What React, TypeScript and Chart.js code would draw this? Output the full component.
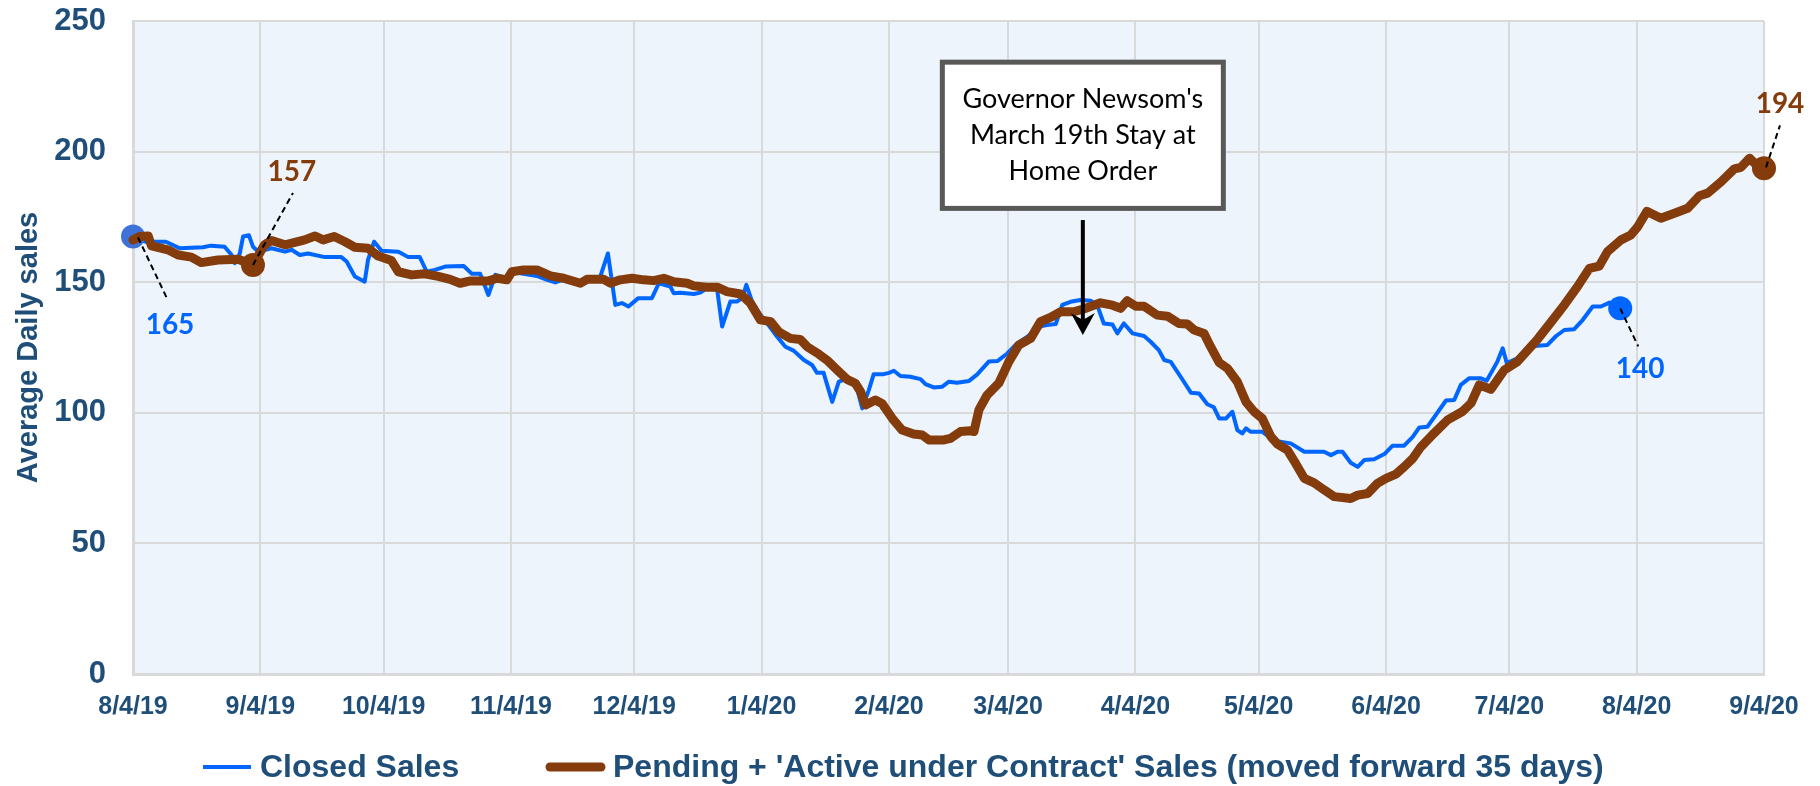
import { useEffect, useRef } from 'react';
import { Chart, registerables } from 'chart.js';

Chart.register(...registerables);

// ---------- data ----------
const tickDays = [0, 31, 61, 92, 122, 153, 184, 213, 244, 274, 305, 335, 366, 397];
const tickLabels = ['8/4/19', '9/4/19', '10/4/19', '11/4/19', '12/4/19', '1/4/20', '2/4/20', '3/4/20', '4/4/20', '5/4/20', '6/4/20', '7/4/20', '8/4/20', '9/4/20'];

// days since 8/4/19
const closedDays = [
  0, 3, 8, 11.4, 17, 19, 22.3, 24, 24.8, 26, 26.8, 28.2, 29.2, 30.5, 33.7, 37, 38.6, 40.6, 42.6, 46.7,
  50.7, 52, 54, 56.4, 57.2, 58.7, 60.5, 64.6, 67, 69.8, 71.5, 73.5, 76, 80.5, 82.5, 84.5, 86.5, 88.2, 91, 92.2,
  98.3, 100.8, 102.8, 104.8, 108.9, 113.7, 115.6, 117.4, 119, 120.6, 123, 126.3, 128, 130.8, 131.6, 133.2, 136.5, 138.1, 139.7, 142.2,
  143.4, 145.4, 147, 148.3, 149.3, 150.7, 152.5, 154.5, 156.8, 158.8, 160.8, 163.3, 165.3, 166.5, 168.1, 170.2, 171.8, 174.2, 175.8, 177.5,
  179.1, 180.3, 182.7, 184, 185.2, 186.8, 189.2, 191.7, 192.9, 194.9, 197, 198.6, 200.6, 203.5, 205.5, 208.3, 210.4, 212.8, 215.2, 217.7,
  220.5, 222.5, 224.6, 226.2, 228.2, 230.6, 233.1, 234.7, 236.3, 238.4, 239.6, 241.2, 243.3, 246.1, 247.7, 249.7, 251, 252.6, 255, 257.5,
  259.5, 261.5, 263.1, 264.4, 266, 267.6, 268.8, 270, 270.9, 272.1, 274.9, 277.8, 281.8, 285.1, 289.9, 291.6, 293.2, 294.4, 296.4, 298.1,
  299.7, 302.1, 304.6, 306.6, 309.4, 311.5, 313.1, 315.1, 319.6, 321.6, 323.2, 325.2, 328.1, 329.5, 332.1, 333.4, 334.4, 337, 341.1, 344.3,
  346.4, 348.4, 350.8, 352.9, 355.3, 357.3, 359.4, 362,
];
const closedValues = [
  167.5, 165.5, 165.5, 163, 163.4, 164, 163.6, 160.4, 157.3, 161, 167.5, 168, 163.6, 161.7, 163, 161.7, 162.4, 160.4, 161, 159.6,
  159.6, 157.9, 152.2, 150.2, 158.5, 165.5, 162, 161.7, 159.6, 159.6, 154, 154.7, 156, 156.2, 153.2, 153.2, 145.1, 152.8, 151.5, 154,
  152.4, 150.9, 149.9, 151.1, 150.2, 151.9, 161, 141.3, 142, 140.7, 143.9, 143.9, 149.6, 148.3, 145.8, 146, 145.5, 146, 147.7, 147.1,
  133, 142.6, 142.6, 143.9, 149, 142.6, 138, 134, 129.1, 125.3, 123.8, 120.2, 118.3, 115.3, 115.3, 104.2, 111.9, 113.2, 111.9, 101.7,
  108.7, 114.8, 114.8, 115.3, 116.1, 114.1, 113.8, 112.9, 111, 109.7, 110, 111.9, 111.5, 112.2, 114.7, 119.6, 119.8, 122.7, 126.6, 129.1,
  133, 133.6, 134, 141.3, 142.5, 143.2, 142.9, 141.2, 134.2, 133.8, 130.4, 134.2, 130.4, 129.4, 127.2, 124, 120.2, 119.5, 113.8, 107.7,
  107.4, 103.3, 102.1, 97.8, 97.8, 100.4, 93.4, 92.1, 94, 92.7, 92.7, 89.3, 88.3, 85.1, 85.1, 83.8, 85.1, 85.1, 80.9, 79.3,
  81.9, 82.2, 84.2, 87.4, 87.4, 90.8, 94.4, 94.7, 104.7, 104.9, 110.7, 113.2, 113.2, 112.3, 119.6, 124.7, 119, 120.9, 125.6, 126,
  129.4, 131.7, 132, 135.6, 140.7, 140.7, 142.2, 140,
];

const pendingDays = [
  0, 1.6, 3.7, 4.5, 8.5, 11, 14.2, 16.6, 20.7, 25.6, 29.2, 32, 33.7, 37, 41.8, 44.3, 46.3, 49, 51.6, 54,
  57.2, 59.7, 62.9, 64.6, 67.8, 71, 74.3, 77.2, 79.6, 82.1, 86.5, 88.6, 91, 92.2, 95.1, 98.3, 101.6, 104.8, 108.9, 110.5,
  114.6, 116.2, 118.6, 121.5, 124.3, 126.7, 129.2, 131.6, 134.9, 136.5, 139.7, 142.2, 144.6, 147.9, 150.3, 152.7, 155.2, 157.2, 160, 162.4,
  164.1, 166.9, 168.9, 171.4, 173.8, 175.8, 177.1, 178.3, 180.7, 182.3, 184.8, 187.2, 190, 192.1, 193.7, 197.4, 199, 201.4, 203.9, 204.7,
  205.9, 207.9, 210.8, 213.2, 215.6, 218.5, 220.9, 223.3, 225.8, 229, 231.9, 235.5, 238.4, 240.4, 242, 244.1, 246.1, 249.3, 251.8, 254.6,
  256.6, 258.3, 260.7, 262.3, 264.4, 266.4, 268.8, 270.9, 272.9, 274.9, 277, 278.6, 281, 283, 285.1, 287.5, 290, 292.4, 296.4, 298.1,
  300.5, 302.9, 305, 307.4, 309.4, 311.5, 313.5, 316.7, 320, 323.6, 325.7, 327.7, 330.5, 333.8, 337, 340.3, 341.9, 344.3, 348.4, 351.6,
  354.5, 356.9, 358.9, 362.2, 364.6, 366.3, 368.5, 371.9, 375.2, 378.4, 381.3, 383.3, 386.6, 389.8, 391.4, 393.5, 395.1, 397,
];
const pendingValues = [
  166.2, 167.5, 167.7, 163.9, 162.4, 160.4, 159.6, 157.5, 158.5, 158.8, 156.6, 164.3, 166, 164.3, 166.2, 167.7, 166.2, 167.5, 165.5, 163.4,
  163, 160, 158.3, 154, 152.8, 153.2, 152.2, 151.1, 149.6, 150.5, 150.5, 151.5, 150.9, 154, 154.7, 154.7, 152.4, 151.5, 149.6, 151.1,
  151.1, 149.6, 150.9, 151.5, 150.9, 150.6, 151.5, 150.2, 149.6, 148.6, 148.1, 148.1, 146.4, 145.5, 141.9, 135.6, 134.9, 131, 128.5, 128.1,
  125.3, 122.5, 120.2, 116.4, 112.8, 111.3, 108.1, 103, 104.9, 103.6, 97.9, 93.4, 91.9, 91.5, 89.6, 89.6, 90.2, 92.8, 93.1, 92.8,
  101.1, 106.8, 111.5, 119.6, 125.9, 128.5, 134.9, 136.5, 138.7, 138.7, 140, 142.1, 141.2, 140, 142.9, 140.8, 140.8, 137.4, 137, 134.2,
  134, 131.7, 130.4, 125.3, 119.2, 117, 111.9, 104.2, 100.4, 97.8, 90.8, 88, 85.7, 80.6, 74.9, 73.2, 70.4, 67.9, 67.2, 68.5,
  69.1, 73, 74.9, 76.5, 79.3, 82.5, 87, 92.2, 97.3, 100.5, 103.7, 110.7, 109, 116.4, 119.6, 125.4, 128.2, 133, 141.3, 148.3,
  155.3, 156.2, 161.7, 166.2, 168.1, 171.3, 177.1, 174.5, 176.4, 178.3, 183.1, 184.1, 188.5, 193.4, 194, 197.5, 194.9, 193.6,
];

const closedMarkedDays = [0, 362];
const pendingMarkedDays = [29.2, 397];
const closedCalloutTexts = ['165', '140'];
const pendingCalloutTexts = ['157', '194'];
const stayHomeDay = 231.2;
const stayHomeLines = ["Governor Newsom's", 'March 19th Stay at', 'Home Order'];
const legendLabels = ['Closed Sales', "Pending + 'Active under Contract' Sales (moved forward 35 days)"];

// ---------- styles ----------
const BLUE = '#0066FF';
const BLUE_START = '#3F72D8';
const BROWN = '#843C0C';
const NAVY = '#1F4E79';
const GRID = '#D9D9D9';
const PLOT_BG = '#EDF4FB';
const SANS = "'Liberation Sans', Arial, sans-serif";
const LABEL_FONT = "bold 28px Lato, 'Open Sans', sans-serif";

const extrasPlugin = {
  id: 'extras',
  beforeDraw(chart: any) {
    const { ctx, chartArea } = chart;
    ctx.save();
    ctx.fillStyle = PLOT_BG;
    ctx.fillRect(chartArea.left, chartArea.top, chartArea.right - chartArea.left, chartArea.bottom - chartArea.top);
    ctx.restore();
  },
  afterDraw(chart: any) {
    const { ctx } = chart;
    const xs = chart.scales.x;
    const ys = chart.scales.y;
    const px = (d: number) => xs.getPixelForValue(d);
    const py = (v: number) => ys.getPixelForValue(v);

    // callouts
    const callout = (day: number, val: number, text: string, color: string, sx: number, sy: number, ex: number, ey: number, lx: number, ly: number) => {
      const x = px(day);
      const y = py(val);
      ctx.save();
      ctx.strokeStyle = '#000';
      ctx.lineWidth = 2;
      ctx.setLineDash([6, 4]);
      ctx.beginPath();
      ctx.moveTo(x + sx, y + sy);
      ctx.lineTo(x + ex, y + ey);
      ctx.stroke();
      ctx.setLineDash([]);
      ctx.fillStyle = color;
      ctx.font = LABEL_FONT;
      ctx.textAlign = 'center';
      ctx.textBaseline = 'middle';
      ctx.fillText(text, x + lx, y + ly);
      ctx.restore();
    };
    const cIdx0 = closedDays.indexOf(closedMarkedDays[0]);
    const cIdx1 = closedDays.indexOf(closedMarkedDays[1]);
    const pIdx0 = pendingDays.indexOf(pendingMarkedDays[0]);
    const pIdx1 = pendingDays.indexOf(pendingMarkedDays[1]);
    callout(closedDays[cIdx0], closedValues[cIdx0], closedCalloutTexts[0], BLUE, 5, 1, 35, 64, 37, 88);
    callout(closedDays[cIdx1], closedValues[cIdx1], closedCalloutTexts[1], BLUE, 0, 0, 18, 38, 20, 61);
    callout(pendingDays[pIdx0], pendingValues[pIdx0], pendingCalloutTexts[0], BROWN, 0, 0, 40, -72, 39, -93);
    callout(pendingDays[pIdx1], pendingValues[pIdx1], pendingCalloutTexts[1], BROWN, 2, -1, 16, -43, 16, -64);

    // annotation box
    const cx = px(stayHomeDay);
    const top = py(235.2);
    const bottom = py(177.3);
    const half = 143;
    ctx.save();
    ctx.fillStyle = '#FFFFFF';
    ctx.fillRect(cx - half, top, half * 2, bottom - top);
    ctx.strokeStyle = '#595959';
    ctx.lineWidth = 5;
    ctx.strokeRect(cx - half + 2.5, top + 2.5, half * 2 - 5, bottom - top - 5);
    ctx.fillStyle = '#000000';
    ctx.font = "27px Lato, 'Open Sans', sans-serif";
    ctx.textAlign = 'center';
    ctx.textBaseline = 'middle';
    stayHomeLines.forEach((l, i) => ctx.fillText(l, cx, top + 40 + i * 36));
    // arrow
    const aTop = py(173.8);
    const aTip = py(129.8);
    ctx.strokeStyle = '#000';
    ctx.lineWidth = 4;
    ctx.beginPath();
    ctx.moveTo(cx, aTop);
    ctx.lineTo(cx, aTip - 14);
    ctx.stroke();
    ctx.beginPath();
    ctx.moveTo(cx, aTip);
    ctx.lineTo(cx - 12, aTip - 22);
    ctx.lineTo(cx, aTip - 15);
    ctx.lineTo(cx + 12, aTip - 22);
    ctx.closePath();
    ctx.fill();
    ctx.restore();

    // legend
    const ly = 767;
    ctx.save();
    ctx.lineCap = 'butt';
    ctx.strokeStyle = BLUE;
    ctx.lineWidth = 4;
    ctx.beginPath();
    ctx.moveTo(203, ly);
    ctx.lineTo(251, ly);
    ctx.stroke();
    ctx.lineCap = 'round';
    ctx.strokeStyle = BROWN;
    ctx.lineWidth = 9;
    ctx.beginPath();
    ctx.moveTo(550, ly);
    ctx.lineTo(601, ly);
    ctx.stroke();
    ctx.fillStyle = NAVY;
    ctx.font = `bold 32px ${SANS}`;
    ctx.textAlign = 'left';
    ctx.textBaseline = 'middle';
    ctx.fillText(legendLabels[0], 260, ly + 1);
    ctx.fillText(legendLabels[1], 613, ly + 1);
    ctx.restore();
  },
};

export default function App() {
  const ref = useRef<HTMLCanvasElement | null>(null);
  useEffect(() => {
    if (!ref.current) return;
    const closedData = closedDays.map((d, i) => ({ x: d, y: closedValues[i] }));
    const pendingData = pendingDays.map((d, i) => ({ x: d, y: pendingValues[i] }));
    const chart = new Chart(ref.current, {
      type: 'line',
      data: {
        datasets: [
          {
            label: legendLabels[1],
            data: pendingData,
            borderColor: BROWN,
            backgroundColor: BROWN,
            borderWidth: 9,
            borderJoinStyle: 'round',
            borderCapStyle: 'round',
            tension: 0,
            order: 0,
            clip: false,
            pointRadius: (c: any) => (c.dataIndex !== undefined && pendingMarkedDays.includes(pendingDays[c.dataIndex]) ? 12 : 0),
            pointBorderWidth: 0,
            pointBackgroundColor: BROWN,
          },
          {
            label: legendLabels[0],
            data: closedData,
            borderColor: BLUE,
            backgroundColor: BLUE,
            borderWidth: 4,
            borderJoinStyle: 'round',
            tension: 0,
            order: 1,
            clip: false,
            pointRadius: (c: any) => (c.dataIndex !== undefined && closedMarkedDays.includes(closedDays[c.dataIndex]) ? 12 : 0),
            pointBorderWidth: 0,
            pointBackgroundColor: (c: any) => (c.dataIndex === 0 ? BLUE_START : BLUE),
          },
        ],
      } as any,
      options: {
        animation: false,
        responsive: false,
        devicePixelRatio: 1,
        events: [],
        layout: { padding: { top: 21, right: 56, bottom: 0, left: 0 } },
        plugins: { legend: { display: false }, tooltip: { enabled: false } },
        scales: {
          x: {
            type: 'linear',
            min: 0,
            max: 397,
            afterBuildTicks: (s: any) => {
              s.ticks = tickDays.map((v) => ({ value: v }));
            },
            afterFit: (s: any) => {
              s.height = 112;
              s.paddingLeft = 0;
              s.paddingRight = 0;
            },
            ticks: {
              autoSkip: false,
              maxRotation: 0,
              minRotation: 0,
              padding: 18,
              color: NAVY,
              font: { family: SANS, weight: 'bold', size: 25 },
              callback: (v: any) => {
                const i = tickDays.indexOf(Number(v));
                return i >= 0 ? tickLabels[i] : '';
              },
            },
            grid: { color: GRID, lineWidth: 2, drawTicks: false },
            border: { display: true, color: GRID, width: 3 },
          },
          y: {
            min: 0,
            max: 250,
            afterFit: (s: any) => {
              s.width = 133;
              s.paddingTop = 0;
              s.paddingBottom = 0;
            },
            ticks: {
              stepSize: 50,
              padding: 27,
              color: NAVY,
              font: { family: SANS, weight: 'bold', size: 31 },
            },
            grid: { color: GRID, lineWidth: 2, drawTicks: false },
            border: { display: true, color: GRID, width: 3 },
            title: {
              display: true,
              text: 'Average Daily sales',
              color: NAVY,
              font: { family: SANS, weight: 'bold', size: 29 },
              padding: { top: 12, bottom: 0 },
            },
          },
        },
      } as any,
      plugins: [extrasPlugin],
    });
    return () => chart.destroy();
  }, []);
  return (
    <div style={{ position: 'fixed', left: 0, top: 0, width: 1820, height: 786, background: '#fff' }}>
      <canvas ref={ref} width={1820} height={786} style={{ width: 1820, height: 786, display: 'block' }} />
    </div>
  );
}
